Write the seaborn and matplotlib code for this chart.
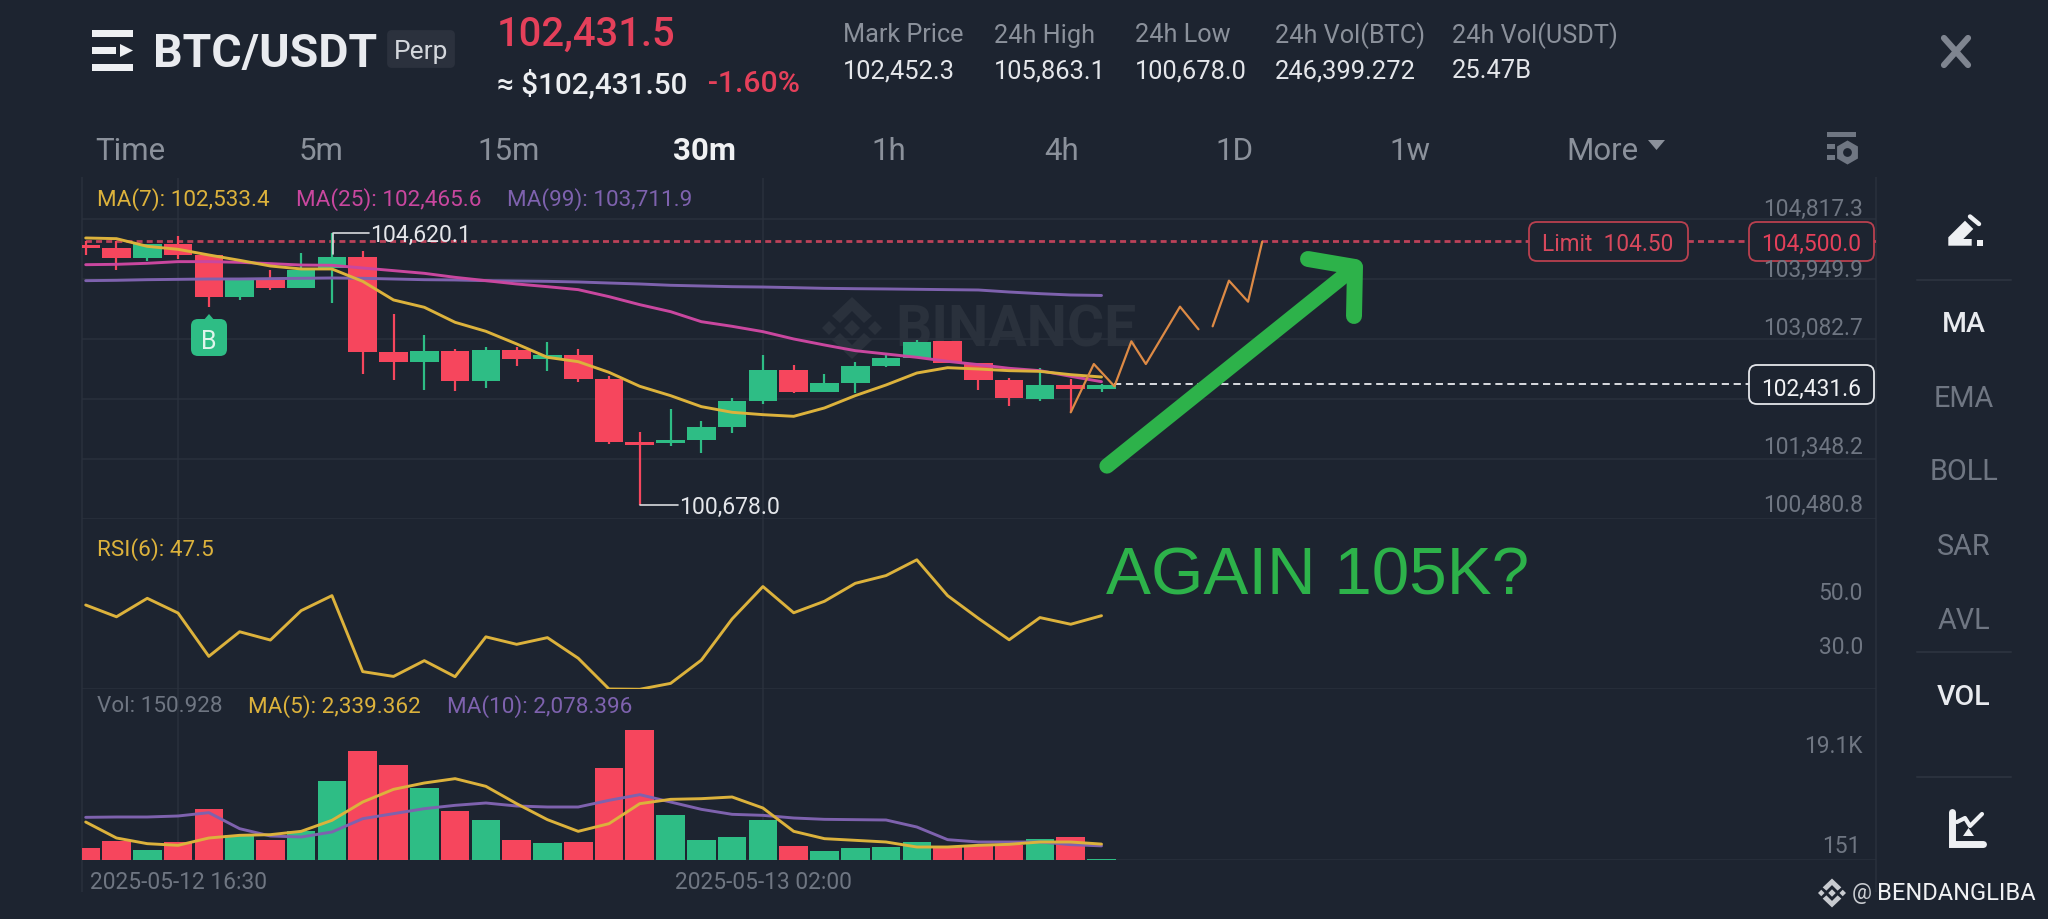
import numpy as np
import pandas as pd
import matplotlib
matplotlib.use('Agg')
import matplotlib.pyplot as plt
from matplotlib.patches import FancyBboxPatch, Rectangle, Polygon
import seaborn as sns

# candles, prices (30m BTC/USDT)
candle_open = [104441, 104393, 104258, 104456, 104302, 103695, 103940, 103815, 104104, 104273, 102900,
               102746, 102914, 102476, 102924, 102794, 102856, 102500, 101589, 101580, 101628, 101806,
               102187, 102635, 102312, 102452, 102697, 102813, 103054, 102731, 102490, 102220, 102418, 102360]
candle_close = [104393, 104258, 104456, 104302, 103695, 103950, 103815, 104080, 104273, 102900, 102746,
                102914, 102476, 102924, 102794, 102856, 102500, 101589, 101551, 101628, 101806, 102187,
                102635, 102312, 102452, 102693, 102803, 103044, 102736, 102485, 102225, 102423, 102355, 102418]
candle_high = [104504, 104504, 104456, 104576, 104302, 103960, 104085, 104321, 104620.1, 104355, 103444,
               103141, 102933, 102967, 102962, 103035, 102938, 102553, 101734, 102071, 101893, 102225,
               102852, 102707, 102577, 102746, 102876, 103068, 103054, 102731, 102514, 102668, 102505, 102432]
candle_low = [104302, 104085, 104215, 104239, 103541, 103647, 103796, 103815, 103603, 102577, 102495,
              102346, 102336, 102370, 102697, 102625, 102466, 101560, 100678.0, 101531, 101435, 101724,
              102148, 102302, 102312, 102302, 102673, 102813, 102736, 102350, 102114, 102192, 102023, 102322]

ma7 = [104543, 104533, 104422, 104379, 104297, 104220, 104138, 104095, 104095, 103916, 103647, 103541,
       103324, 103194, 103011, 102818, 102755, 102601, 102399, 102264, 102105, 102023, 101989, 101965,
       102086, 102264, 102418, 102591, 102668, 102649, 102625, 102615, 102567, 102533.4]
ma25 = [104157, 104162, 104177, 104201, 104201, 104191, 104172, 104152, 104148, 104109, 104071, 104032,
        103974, 103926, 103878, 103839, 103796, 103695, 103579, 103478, 103333, 103266, 103189, 103083,
        102996, 102914, 102866, 102818, 102760, 102712, 102659, 102625, 102543, 102465.6]
ma99 = [103926, 103931, 103940, 103945, 103950, 103950, 103955, 103960, 103965, 103960, 103950, 103940,
        103936, 103926, 103921, 103916, 103907, 103892, 103878, 103859, 103849, 103839, 103834, 103825,
        103815, 103810, 103806, 103801, 103796, 103791, 103762, 103738, 103719, 103711.9]

rsi6 = [51.5, 47.1, 54.0, 48.5, 32.3, 41.5, 38.4, 49.4, 55.0, 26.6, 24.8, 30.7, 24.7, 39.6, 36.8, 39.3, 31.6,
        20.1, 20.0, 22.2, 30.9, 46.3, 58.4, 48.6, 52.9, 59.6, 62.5, 68.4, 55.0, 46.5, 38.5, 46.8, 44.3, 47.5]

volume = [1715, 2793, 1519, 2646, 7448, 3724, 2940, 4214, 11564, 16072, 13965, 10633, 7252, 5929, 2891, 2499,
          2646, 13573, 19110, 6615, 2891, 3381, 5831, 2107, 1274, 1764, 1862, 2597, 1911, 2156, 2254, 3038,
          3381, 150.9]
vol_ma5 = [5586, 3234, 2401, 2156, 3234, 3626, 3724, 4214, 5831, 8526, 10388, 11319, 11956, 10829, 8281, 5929,
           4214, 5341, 8281, 8918, 9016, 9261, 7644, 4214, 3136, 2891, 2646, 1911, 1911, 2156, 2303, 2646,
           2646, 2339]
vol_ma10 = [6272, 6321, 6321, 6468, 6958, 4606, 3528, 3381, 4116, 6076, 6811, 7546, 8036, 8379, 7938, 7791,
            7791, 8771, 9604, 8526, 7448, 6713, 6566, 6174, 5978, 5929, 5880, 4851, 2989, 2646, 2646, 2646,
            2254, 2078]

# hand drawn orange forecast, two pieces
sketch_x1 = [32.0, 32.75, 33.42, 33.97, 34.44, 35.55, 36.15]
sketch_y1 = [102023, 102721, 102399, 103049, 102721, 103550, 103223]
sketch_x2 = [36.61, 37.14, 37.76, 38.22]
sketch_y2 = [103266, 103926, 103622, 104490]

price_ticks = [104817.3, 103949.9, 103082.7, 102215.4, 101348.2, 100480.8]
price_labels = ['104,817.3', '103,949.9', '103,082.7', None, '101,348.2', '100,480.8']
limit_price = 104500.0
last_price = 102431.6
time_ticks = [3, 22]
time_labels = ['2025-05-12 16:30', '2025-05-13 02:00']

header_names = ['Mark Price', '24h High', '24h Low', '24h Vol(BTC)', '24h Vol(USDT)']
header_values = ['102,452.3', '105,863.1', '100,678.0', '246,399.272', '25.47B']
tabs = ['5m', '15m', '30m', '1h', '4h', '1D', '1w']
side_items = ['MA', 'EMA', 'BOLL', 'SAR', 'AVL', 'VOL']

BG = '#1d2430'
GRID = '#2a313d'
RED = '#f6465d'
GREEN = '#2ebd85'
GOLD = '#dcb23c'
PINK = '#c9479f'
PURPLE = '#7e62ae'
GRAY = '#6f7682'
LIGHT = '#8b919b'
ARROW = '#2db24a'

sns.set_theme(style='dark', rc={'figure.facecolor': BG, 'axes.facecolor': 'none', 'savefig.facecolor': BG})
plt.rcParams['font.family'] = ['Roboto', 'DejaVu Sans']

W, H = 2048, 920
LEFT, RIGHT = 82, 1876


def panel(top, bottom):
    return fig.add_axes([LEFT / W, 1 - bottom / H, (RIGHT - LEFT) / W, (bottom - top) / H], zorder=2)


def binance_logo(a, cx, cy, r, color):
    # chevrons up and down, three small diamonds between them
    k = r / 30
    chev = [(0, -31), (20, -12), (12, -5), (0, -17), (-12, -5), (-20, -12)]
    a.add_patch(Polygon([(cx + k * x, cy + k * y) for x, y in chev], color=color, lw=0))
    a.add_patch(Polygon([(cx + k * x, cy - k * y) for x, y in chev], color=color, lw=0))
    for dx, q in [(0, 8), (-23, 7), (23, 7)]:
        pts = [(cx + k * (dx - q), cy), (cx + k * dx, cy - k * q), (cx + k * (dx + q), cy), (cx + k * dx, cy + k * q)]
        a.add_patch(Polygon(pts, color=color, lw=0))


fig = plt.figure(figsize=(W / 100, H / 100), dpi=100)

# pixel layer under the chart (watermark, frame)
under = fig.add_axes([0, 0, 1, 1], zorder=0)
under.set_xlim(0, W)
under.set_ylim(H, 0)
under.axis('off')
under.vlines([LEFT, RIGHT], 178, 893, color=GRID, lw=1.1)
under.text(1016, 331, 'BINANCE', color='#2a313c', fontsize=41, fontweight='bold', ha='center', va='center')
binance_logo(under, 852, 329, 30, '#2a313c')

ax = panel(179, 520)
ax_rsi = panel(520, 690)
ax_vol = panel(690, 861)

# candles
idx = np.arange(len(candle_open))
colors = [GREEN if c >= o else RED for o, c in zip(candle_open, candle_close)]
bottoms = np.minimum(candle_open, candle_close)
heights = np.abs(np.array(candle_close) - np.array(candle_open))
ax.vlines(idx, candle_low, candle_high, colors=colors, lw=1.6, zorder=3)
ax.bar(idx, heights, bottom=bottoms, width=0.93, color=colors, linewidth=0, zorder=3)

# moving averages
sns.lineplot(x=idx, y=ma99, color=PURPLE, lw=2.1, ax=ax, zorder=4)
sns.lineplot(x=idx, y=ma25, color=PINK, lw=2.1, ax=ax, zorder=5)
sns.lineplot(x=idx, y=ma7, color=GOLD, lw=2.1, ax=ax, zorder=6)

# order lines
ax.hlines(limit_price, -1, 59, color='#bd4259', lw=2, linestyles=(0, (2.15, 1.5)), zorder=2)
ax.hlines(last_price, 33.4, 59, color='#e8eaee', lw=1.3, linestyles=(0, (4, 2.6)), zorder=2)

sns.lineplot(x=sketch_x1, y=sketch_y1, sort=False, estimator=None, color='#dd8a45', lw=1.6, ax=ax, zorder=7)
sns.lineplot(x=sketch_x2, y=sketch_y2, sort=False, estimator=None, color='#dd8a45', lw=1.6, ax=ax, zorder=7)

# rsi
sns.lineplot(x=idx, y=rsi6, color=GOLD, lw=2.1, ax=ax_rsi)

# volume
vol_df = pd.DataFrame({'i': idx, 'vol': volume, 'dir': ['up' if c == GREEN else 'down' for c in colors]})
sns.barplot(data=vol_df, x='i', y='vol', hue='dir', palette={'up': GREEN, 'down': RED}, native_scale=True,
            dodge=False, width=0.93, saturation=1, legend=False, linewidth=0, ax=ax_vol)
sns.lineplot(x=idx, y=vol_ma10, color=PURPLE, lw=2.1, ax=ax_vol)
sns.lineplot(x=idx, y=vol_ma5, color=GOLD, lw=2.1, ax=ax_vol)

x_lim = (-0.12, 58.16)
ax.set_ylim(100480.8, 105409.9)
ax_rsi.set_ylim(20.1, 83.65)
ax_vol.set_ylim(0, 25137)
panel_ticks = {ax: price_ticks, ax_rsi: [20.1], ax_vol: [0]}
for a, ticks in panel_ticks.items():
    a.set_xlim(x_lim)
    a.set_xticks(time_ticks)
    a.set_yticks(ticks)
    a.grid(True, color=GRID, lw=1.1)
    a.set_axisbelow(True)
    a.tick_params(length=0, labelleft=False, labelbottom=False)
    a.set_xlabel('')
    a.set_ylabel('')
    sns.despine(ax=a, left=True, bottom=True)

# pixel layer over the chart for the app interface
top = fig.add_axes([0, 0, 1, 1], zorder=10)
top.set_xlim(0, W)
top.set_ylim(H, 0)
top.axis('off')
top.patch.set_alpha(0)


def label(x, y, s, size=16.4, color=GRAY, ha='left', weight='normal', **kw):
    top.text(x, y + 1.5, s, fontsize=size, color=color, ha=ha, va='center', fontweight=weight, **kw)


def box(x0, y0, x1, y1, edge, face=BG, r=8, lw=1.3):
    top.add_patch(FancyBboxPatch((x0 + r, y0 + r), x1 - x0 - 2 * r, y1 - y0 - 2 * r,
                                 boxstyle=f'round,pad={r},rounding_size={r}', ec=edge, fc=face, lw=lw))


# header
for y0, y1, x1 in [(31, 38, 133), (48, 55, 116), (65, 72, 133)]:
    top.add_patch(Rectangle((92, y0), x1 - 92, y1 - y0, color='#eef0f3', lw=0))
top.add_patch(Polygon([(120, 45), (133, 51.5), (120, 58)], color='#eef0f3', lw=0))
label(153, 53, 'BTC/USDT', 33.4, '#e9ebef', weight='bold')
box(388, 32, 454, 68, '#2b313d', '#2b313d', r=4)
label(421, 51, 'Perp', 19, '#d4d7dc', ha='center')
label(497, 33, '102,431.5', 28.7, '#e5405a', weight='medium')
label(497, 83, '≈ $102,431.50', 21.3, '#eceef1', weight='medium')
label(708, 83, '-1.60%', 21.7, '#e5405a', weight='medium')
for x, name, val in zip([843, 994, 1135, 1275, 1452], header_names, header_values):
    label(x, 34, name, 18.2, LIGHT)
    label(x, 70, val, 18.4, '#e4e6ea')
top.plot([1944, 1968], [39, 66], color='#7f8590', lw=4.5, solid_capstyle='round')
top.plot([1944, 1968], [66, 39], color='#7f8590', lw=4.5, solid_capstyle='round')

# interval tabs
label(95, 149.5, 'Time', 22.5, LIGHT)
for x, tab in zip([321, 509, 705, 889, 1062, 1234, 1410], tabs):
    if tab == '30m':
        label(x, 149.5, tab, 22.5, '#f0f1f3', ha='center', weight='bold')
    else:
        label(x, 149.5, tab, 22.5, LIGHT, ha='center')
label(1602, 149.5, 'More', 22.5, LIGHT, ha='center')
top.add_patch(Polygon([(1648, 141), (1665, 141), (1656.5, 151)], color=LIGHT, lw=0))
top.add_patch(Rectangle((1827, 133), 29, 5, color=GRAY, lw=0))
top.add_patch(Rectangle((1827, 145), 8, 5, color=GRAY, lw=0))
top.add_patch(Rectangle((1827, 156), 8, 5, color=GRAY, lw=0))
top.scatter([1847], [153], marker='h', s=300, color=GRAY, linewidths=0)
top.scatter([1847], [153], marker='o', s=40, color=BG, linewidths=0)

# indicator captions
label(97, 198.5, 'MA(7): 102,533.4', 16.2, GOLD)
label(296, 198.5, 'MA(25): 102,465.6', 16.2, PINK)
label(507, 198.5, 'MA(99): 103,711.9', 16.2, PURPLE)
label(97, 548, 'RSI(6): 47.5', 16.2, GOLD)
label(97, 705, 'Vol: 150.928', 16.2, GRAY)
label(248, 705, 'MA(5): 2,339.362', 16.2, GOLD)
label(447, 705, 'MA(10): 2,078.396', 16.2, PURPLE)

# high / low marks
top.plot([332.5, 332.5, 369], [255, 234, 234], color='#d8dade', lw=1.2)
label(370, 234, '104,620.1', 16.6, '#e4e6ea')
top.plot([640, 678], [506, 506], color='#d8dade', lw=1.2)
label(679, 506, '100,678.0', 16.6, '#e4e6ea')

# buy badge
top.add_patch(Polygon([(203, 322), (209, 315), (215, 322)], color=GREEN, lw=0))
box(191, 320, 227, 357, GREEN, GREEN, r=7, lw=0)
label(209, 341, 'B', 18, '#dff5ec', ha='center')

# right price scale
for txt, y in zip(price_labels, [207.5, 268.5, 327, 0, 446, 504]):
    if txt:
        label(1863, y, txt, 16.4, GRAY, ha='right')
label(1863, 592, '50.0', 16.4, GRAY, ha='right')
label(1863, 646, '30.0', 16.4, GRAY, ha='right')
label(1863, 745, '19.1K', 16.4, GRAY, ha='right')
label(1861, 845, '151', 16.4, GRAY, ha='right')
box(1529, 223, 1688, 262, '#b9404f', BG)
label(1608, 243, 'Limit  104.50', 16.3, '#d8485c', ha='center')
box(1749, 223, 1874, 262, '#b9404f', BG)
label(1811, 243, '104,500.0', 16.4, '#e5405a', ha='center')
box(1749, 366, 1874, 405, '#e4e6ea', BG)
label(1811, 388, '102,431.6', 16.4, '#f0f1f3', ha='center')

# time axis
label(90, 881, time_labels[0], 16.4, GRAY)
label(675, 881, time_labels[1], 16.4, GRAY)

# right hand tool bar
for y in [281, 653, 778]:
    top.plot([1917, 2011], [y, y], color=GRID, lw=1.5)
for y, name in zip([323, 398, 471, 546, 620, 696], side_items):
    if name in ('MA', 'VOL'):
        label(1964, y, name, 20.5, '#e9ebef', ha='center', weight='medium')
    else:
        label(1964, y, name, 20.8, GRAY, ha='center')
top.add_patch(Polygon([(1948.3, 246.7), (1948.3, 238.3), (1965, 221.7), (1973.3, 230), (1963.3, 240),
                       (1971.7, 240), (1971.7, 246.7)], color='#eef0f3', lw=0))
top.plot([1970, 1979], [217.5, 225], color='#eef0f3', lw=3.2)
top.add_patch(Rectangle((1976.7, 240.7), 6, 6, color='#eef0f3', lw=0))
top.plot([1952, 1952, 1983], [813, 844.5, 844.5], color='#eef0f3', lw=5, solid_joinstyle='miter')
top.plot([1957, 1965, 1970, 1982], [823, 819, 827, 815], color='#eef0f3', lw=3)
top.add_patch(Polygon([(1963, 837), (1974, 837), (1968.5, 829)], color='#eef0f3', lw=0))

# drawn on top by hand
top.plot([1107, 1355], [467, 268], color=ARROW, lw=11, solid_capstyle='round')
top.plot([1308, 1355, 1354], [260, 268, 317], color=ARROW, lw=11.5, solid_capstyle='round',
         solid_joinstyle='round')
top.text(1106, 578, 'AGAIN 105K?', fontsize=48.5, color=ARROW, va='center', family=['Liberation Sans'])

# repost watermark
binance_logo(top, 1832, 894, 14, '#c8cbd0')
label(1852, 892, '@', 16, '#c8cbd0')
label(1877, 892, 'BENDANGLIBA', 17, '#f0f1f3')

fig.savefig('out.png', dpi=100)
